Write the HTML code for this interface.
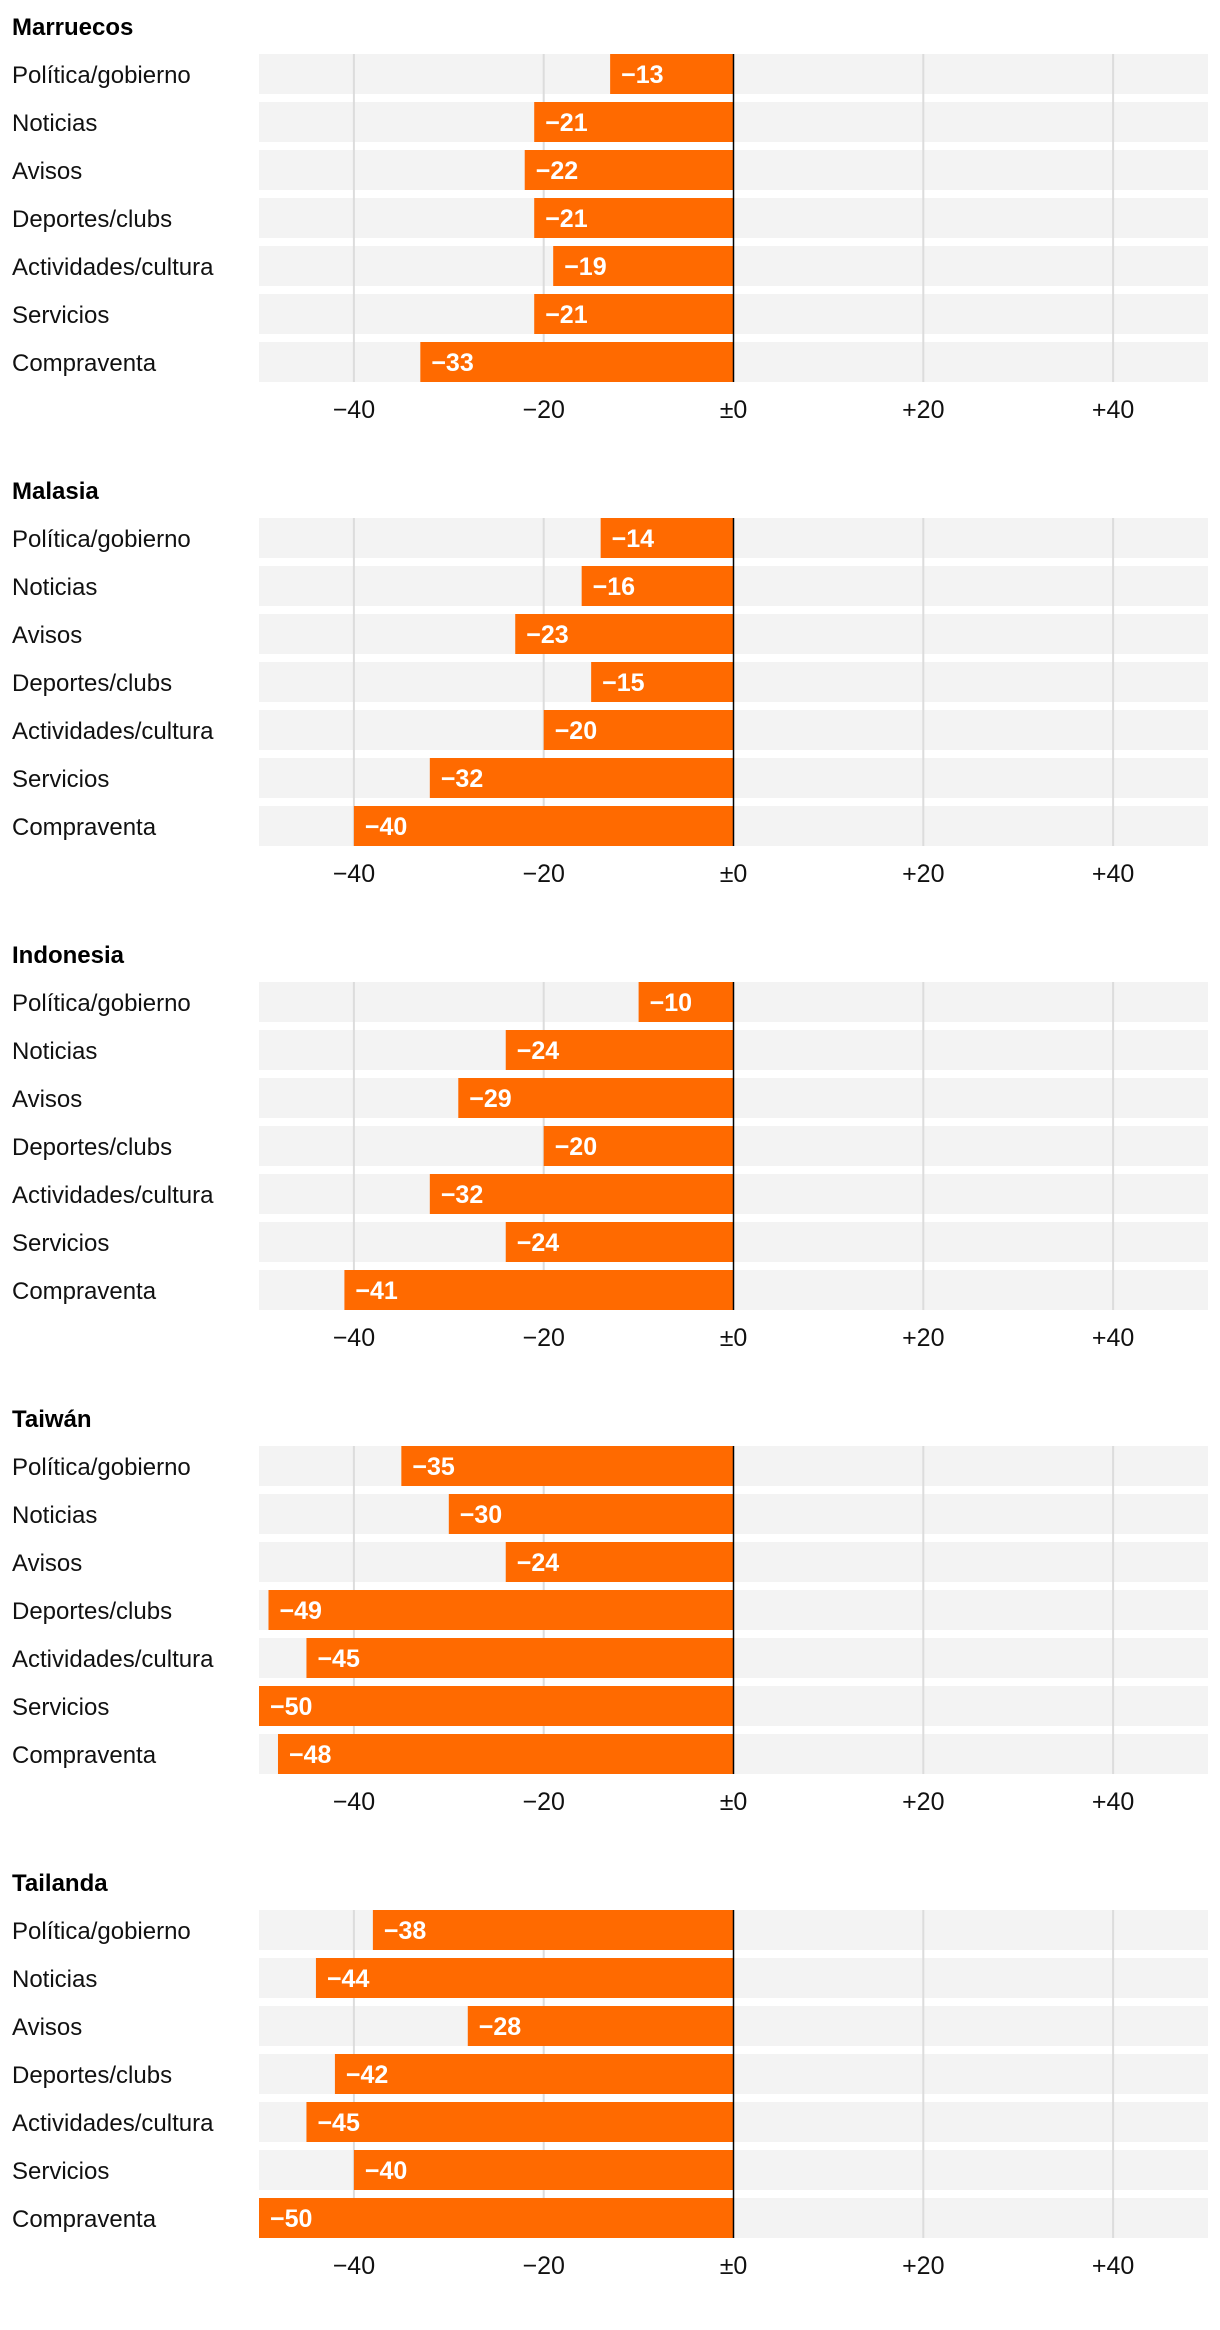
<!DOCTYPE html>
<html><head><meta charset="utf-8"><style>
html,body{margin:0;padding:0;background:#fff;}
svg{display:block;font-family:"Liberation Sans",sans-serif;}
</style></head><body>
<svg id="chart" width="1220" height="2330" xmlns="http://www.w3.org/2000/svg"></svg>
<script>
const countries = ["Marruecos","Malasia","Indonesia","Taiwán","Tailanda"];
const categories = ["Política/gobierno","Noticias","Avisos","Deportes/clubs","Actividades/cultura","Servicios","Compraventa"];
const marruecos = [-13,-21,-22,-21,-19,-21,-33];
const malasia = [-14,-16,-23,-15,-20,-32,-40];
const indonesia = [-10,-24,-29,-20,-32,-24,-41];
const taiwan = [-35,-30,-24,-49,-45,-50,-48];
const tailanda = [-38,-44,-28,-42,-45,-40,-50];
const tickValues = [-40,-20,0,20,40];
const tickLabels = ["−40","−20","±0","+20","+40"];

const series=[marruecos,malasia,indonesia,taiwan,tailanda];
const svg=document.getElementById('chart');
const NS='http://www.w3.org/2000/svg';
const X0=259,X1=1208,DMIN=-50,DMAX=50;
const x=v=>X0+(v-DMIN)/(DMAX-DMIN)*(X1-X0);
const PANEL=464,BAR_TOP=54,STEP=48,BH=40;
function mk(t,a,p){const e=document.createElementNS(NS,t);for(const k in a)e.setAttribute(k,a[k]);(p||svg).appendChild(e);return e;}
countries.forEach((c,pi)=>{
  const oy=pi*PANEL;
  const g=mk('g',{});
  
  
  const t=mk('text',{x:12,y:oy+35,'font-size':24,'font-weight':'bold',fill:'#000'},g);
  t.textContent=c;
  
  
  categories.forEach((cat,i)=>{
    const y=oy+BAR_TOP+i*STEP;
    const bg=mk('rect',{x:X0,y:y,width:X1-X0,height:BH,fill:'#f3f3f3'},g);
    
    
    const l=mk('text',{x:12,y:y+29,'font-size':24,fill:'#111'},g);
    l.textContent=cat;
    
    
  });
  tickValues.forEach((v,k)=>{
    if(v!==0){
      const gl=mk('line',{x1:x(v),x2:x(v),y1:oy+BAR_TOP,y2:oy+BAR_TOP+6*STEP+BH,stroke:'#dcdcdc','stroke-width':2},g);
      
      
    }
    const tl=mk('text',{x:x(v),y:oy+418,'font-size':25,fill:'#111','text-anchor':'middle'},g);
    tl.textContent=tickLabels[k];
    
    
  });
  series[pi].forEach((v,i)=>{
    const y=oy+BAR_TOP+i*STEP;
    const b=mk('rect',{x:x(Math.min(v,0)),y:y,width:Math.abs(x(v)-x(0)),height:BH,fill:'#ff6a00'},g);
    
    
    const vl=mk('text',{x:x(Math.min(v,0))+11,y:y+29,'font-size':25,'font-weight':'bold',fill:'#fff'},g);
    vl.textContent=(v<0?'−':'+')+Math.abs(v);
    
    
  });
  const z=mk('line',{x1:x(0),x2:x(0),y1:oy+BAR_TOP,y2:oy+BAR_TOP+6*STEP+BH,stroke:'#000','stroke-width':1.5},g);
  
  
});
</script>
</body></html>
